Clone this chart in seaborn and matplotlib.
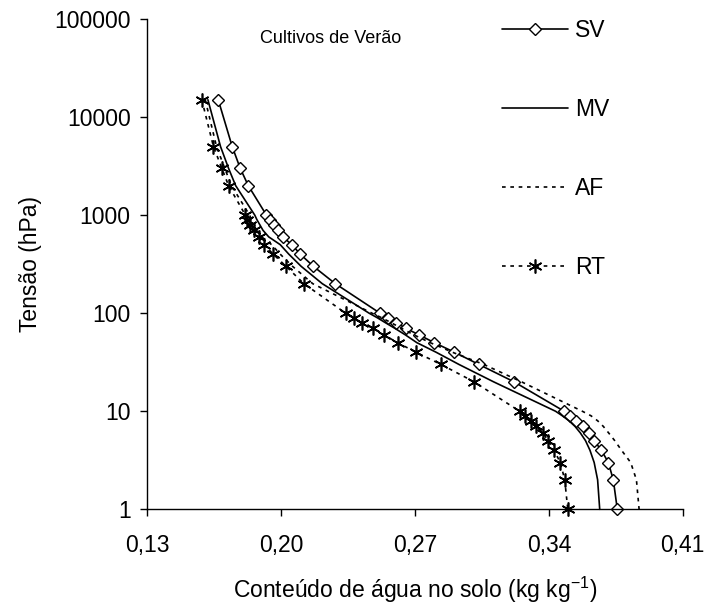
import numpy as np
import pandas as pd
import matplotlib
matplotlib.use("Agg")
import matplotlib.pyplot as plt
from matplotlib.ticker import NullLocator, FixedLocator, FixedFormatter
import seaborn as sns

# ---- data ----
tension = [15000, 5000, 3000, 2000, 1000, 900, 800, 700, 600, 500, 400, 300, 200,
           100, 90, 80, 70, 60, 50, 40, 30, 20, 10, 9, 8, 7, 6, 5, 4, 3, 2, 1]

sv = [0.1671, 0.1744, 0.1786, 0.1828, 0.1923, 0.1944, 0.1965, 0.1986, 0.2008, 0.2056,
      0.2100, 0.2169, 0.2283, 0.2517, 0.2561, 0.2603, 0.2652, 0.2722, 0.2801, 0.2906,
      0.3034, 0.3217, 0.3480, 0.3509, 0.3544, 0.3580, 0.3609, 0.3637, 0.3675, 0.3711,
      0.3737, 0.3758]

mv = [0.1617, 0.1683, 0.1725, 0.1762, 0.1862, 0.1873, 0.1888, 0.1905, 0.1935, 0.1995,
      0.2040, 0.2105, 0.2215, 0.2460, 0.2502, 0.2545, 0.2595, 0.2650, 0.2710, 0.2810,
      0.2930, 0.3110, 0.3435, 0.3470, 0.3505, 0.3537, 0.3565, 0.3592, 0.3615, 0.3637,
      0.3655, 0.3666]

af = [0.1603, 0.1662, 0.1705, 0.1740, 0.1835, 0.1845, 0.1858, 0.1874, 0.1898, 0.1950,
      0.1995, 0.2060, 0.2165, 0.2475, 0.2525, 0.2575, 0.2630, 0.2695, 0.2780, 0.2895,
      0.3060, 0.3256, 0.3575, 0.3620, 0.3655, 0.3685, 0.3713, 0.3745, 0.3780, 0.3828,
      0.3858, 0.3872]

rt = [0.1585, 0.1646, 0.1690, 0.1725, 0.1813, 0.1822, 0.1839, 0.1856, 0.1883, 0.1912,
      0.1958, 0.2026, 0.2119, 0.2337, 0.2381, 0.2425, 0.2481, 0.2538, 0.2609, 0.2705,
      0.2836, 0.3008, 0.3247, 0.3273, 0.3308, 0.3334, 0.3370, 0.3396, 0.3427, 0.3460,
      0.3483, 0.3499]

series_names = ["SV", "MV", "AF", "RT"]
x_ticks = [0.13, 0.20, 0.27, 0.34, 0.41]
x_tick_labels = ["0,13", "0,20", "0,27", "0,34", "0,41"]
y_ticks = [1, 10, 100, 1000, 10000, 100000]
y_tick_labels = ["1", "10", "100", "1000", "10000", "100000"]

# ---- style ----
sns.set_theme(style="ticks")
plt.rcParams["font.family"] = ["Liberation Sans", "DejaVu Sans"]
plt.rcParams["mathtext.fontset"] = "custom"
plt.rcParams["mathtext.rm"] = "Liberation Sans"
plt.rcParams["mathtext.default"] = "regular"
FS = 16.5

fig = plt.figure(figsize=(7.05, 6.10), dpi=100)
ax = fig.add_axes([147.3 / 705, 1 - 509.3 / 610, 535.4 / 705, 490.3 / 610])

dotted = (0, (2.2, 2.8))
common = dict(ax=ax, sort=False, estimator=None, color="black", lw=1.2, clip_on=False)

sns.lineplot(x=sv, y=tension, label=series_names[0], marker="D", markersize=6,
             markerfacecolor="white", markeredgecolor="black", markeredgewidth=1.0,
             **common)
sns.lineplot(x=mv, y=tension, label=series_names[1], **common)
sns.lineplot(x=af, y=tension, label=series_names[2], linestyle=dotted, **common)
sns.lineplot(x=rt, y=tension, label=series_names[3], linestyle=dotted, marker=(6, 2, 0),
             markersize=10, markeredgecolor="black", markeredgewidth=1.2, **common)

ax.set_yscale("log")
ax.set_ylim(1, 100000)
ax.set_xlim(0.13, 0.41)
ax.yaxis.set_major_locator(FixedLocator(y_ticks))
ax.yaxis.set_major_formatter(FixedFormatter(y_tick_labels))
ax.yaxis.set_minor_locator(NullLocator())
ax.xaxis.set_major_locator(FixedLocator(x_ticks))
ax.xaxis.set_major_formatter(FixedFormatter(x_tick_labels))
ax.xaxis.set_minor_locator(NullLocator())

for side in ["top", "right"]:
    ax.spines[side].set_visible(False)
for side in ["left", "bottom"]:
    ax.spines[side].set_color("black")
    ax.spines[side].set_linewidth(1.0)

ax.tick_params(axis="both", which="major", direction="out", length=5, width=1.0,
               color="black", labelsize=FS, labelcolor="black")
ax.tick_params(axis="x", pad=12.5)
ax.tick_params(axis="y", pad=7)

ax.set_xlabel("Conteúdo de água no solo (kg kg$^{-1}$)", fontsize=FS, color="black",
              labelpad=13)
ax.set_ylabel("Tensão (hPa)", fontsize=FS, color="black", labelpad=9)

ax.text(0.2259, 6.4e4, "Cultivos de Verão", fontsize=13, ha="center", va="center",
        color="black")

leg = ax.legend(loc="upper left", bbox_to_anchor=(0.6625, 1.0), frameon=False,
                fontsize=FS, handlelength=2.9, handletextpad=0.3, labelspacing=2.45,
                borderpad=0, borderaxespad=0, numpoints=1)
for t in leg.get_texts():
    t.set_color("black")

fig.savefig("out.png", dpi=100, facecolor="white")
